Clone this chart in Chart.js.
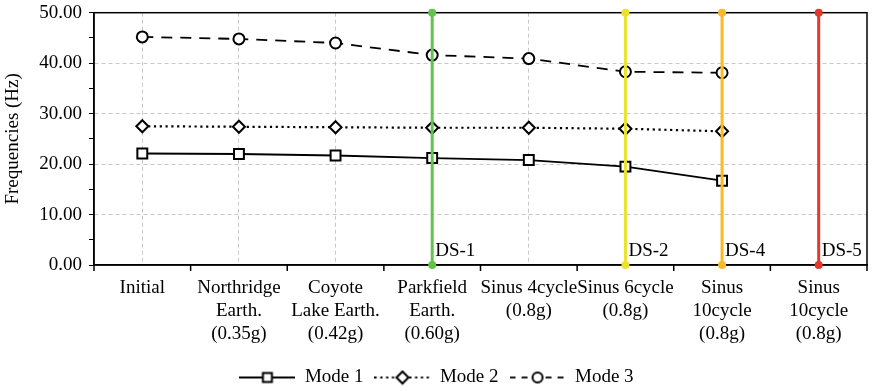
<!DOCTYPE html>
<html>
<head>
<meta charset="utf-8">
<script src="https://cdn.jsdelivr.net/npm/chart.js@4/dist/chart.umd.min.js"></script>
<style>
html, body { margin: 0; padding: 0; background: #fff; }
#wrap { width: 876px; height: 391px; }
</style>
</head>
<body>
<div id="wrap"><canvas id="chart1"></canvas></div>
<script>
const categories = [
    ['Initial'],
    ['Northridge', 'Earth.', '(0.35g)'],
    ['Coyote', 'Lake Earth.', '(0.42g)'],
    ['Parkfield', 'Earth.', '(0.60g)'],
    ['Sinus 4cycle', '(0.8g)'],
    ['Sinus 6cycle', '(0.8g)'],
    ['Sinus', '10cycle', '(0.8g)'],
    ['Sinus', '10cycle', '(0.8g)']
];
const mode1 = [22.1, 22.0, 21.7, 21.2, 20.8, 19.5, 16.7];
const mode2 = [27.5, 27.4, 27.3, 27.2, 27.2, 27.0, 26.5];
const mode3 = [45.2, 44.8, 44.0, 41.6, 40.9, 38.3, 38.1];
const dsNames = ['DS-1', 'DS-2', 'DS-4', 'DS-5'];
const dsAt = [3, 5, 6, 7];
const dsColors = ['#62c44a', '#ebe230', '#fbb829', '#e2392c'];
const yMin = 0, yMax = 50;

Chart.defaults.font.family = '"Liberation Serif", "Times New Roman", serif';
Chart.defaults.font.size = 19;
Chart.defaults.color = '#000';

// legend swatch: line sample with marker in the middle
function swatch(dash, width, shape) {
    const c = document.createElement('canvas');
    c.width = 56; c.height = 16;
    const g = c.getContext('2d');
    g.strokeStyle = '#000';
    g.lineWidth = width;
    g.setLineDash(dash);
    g.beginPath(); g.moveTo(0, 8); g.lineTo(56, 8); g.stroke();
    g.setLineDash([]);
    g.fillStyle = '#fff';
    g.lineWidth = 2;
    g.beginPath();
    if (shape === 'rect') g.rect(23.5, 3.5, 9, 9);
    else if (shape === 'rectRot') { g.moveTo(22, 8); g.lineTo(28, 2); g.lineTo(34, 8); g.lineTo(28, 14); g.closePath(); }
    else g.arc(28, 8, 5, 0, Math.PI * 2);
    g.fill(); g.stroke();
    return c;
}
const swatches = [swatch([], 1.8, 'rect'), swatch([2.2, 3.6], 2.2, 'rectRot'), swatch([6, 6], 1.8, 'circle')];

const dsSets = dsNames.map((name, i) => ({
    label: name,
    data: [{x: categories[dsAt[i]], y: yMin}, {x: categories[dsAt[i]], y: yMax}],
    borderColor: dsColors[i],
    backgroundColor: dsColors[i],
    borderWidth: 3,
    pointRadius: 4,
    pointBorderWidth: 0,
    clip: false
}));

const modeSets = [
    {label: 'Mode 1', data: mode1, borderDash: [], borderWidth: 1.8, pointStyle: 'rect', pointRadius: 7},
    {label: 'Mode 2', data: mode2, borderDash: [2.2, 3.6], borderWidth: 2.2, pointStyle: 'rectRot', pointRadius: 6},
    {label: 'Mode 3', data: mode3, borderDash: [11, 8], borderWidth: 1.8, pointStyle: 'circle', pointRadius: 5.5}
].map(d => Object.assign(d, {
    borderColor: '#000',
    pointBackgroundColor: '#fff',
    pointBorderColor: '#000',
    pointBorderWidth: 2
}));

const extras = {
    id: 'extras',
    beforeDatasetsDraw(chart) {
        const {ctx, chartArea: a} = chart;
        const x = chart.scales.x;
        ctx.save();
        ctx.strokeStyle = '#000';
        ctx.lineWidth = 1.5;
        ctx.strokeRect(a.left, a.top, a.right - a.left, a.bottom - a.top);
        ctx.beginPath();
        for (let i = 0; i <= categories.length; i++) {
            const px = x.getPixelForValue(i - 0.5);
            ctx.moveTo(px, a.bottom);
            ctx.lineTo(px, a.bottom + 6);
        }
        ctx.stroke();
        ctx.restore();
    },
    afterDatasetsDraw(chart) {
        const {ctx} = chart;
        const x = chart.scales.x, y = chart.scales.y;
        ctx.save();
        ctx.font = '19px "Liberation Serif"';
        ctx.fillStyle = '#000';
        ctx.textBaseline = 'middle';
        dsNames.forEach((t, i) => {
            ctx.fillText(t, x.getPixelForValue(dsAt[i]) + 3, y.getPixelForValue(yMin) - 14);
        });
        ctx.restore();
    }
};

const ctx1 = document.getElementById('chart1').getContext('2d');
const chart1 = new Chart(ctx1, {
    type: 'line',
    data: {
        labels: categories,
        datasets: dsSets.concat(modeSets)
    },
    options: {
        responsive: true,
        maintainAspectRatio: false,
        animation: false,
        layout: {padding: {top: 12, right: 3, bottom: -6, left: 0}},
        plugins: {
            tooltip: {enabled: false},
            legend: {
                position: 'bottom',
                labels: {
                    usePointStyle: true,
                    pointStyleWidth: 56,
                    padding: 11,
                    color: '#000',
                    generateLabels(chart) {
                        return Chart.defaults.plugins.legend.labels.generateLabels(chart)
                            .filter(l => l.datasetIndex >= dsNames.length)
                            .map(l => Object.assign(l, {pointStyle: swatches[l.datasetIndex - dsNames.length]}));
                    }
                }
            }
        },
        scales: {
            x: {
                type: 'category',
                offset: true,
                grid: {
                    offset: false,
                    drawTicks: false,
                    color: '#c8c8c8',
                    lineWidth: 1
                },
                border: {display: true, color: '#000', width: 1.5, dash: [4, 3]},
                ticks: {autoSkip: false, maxRotation: 0, minRotation: 0, padding: 12},
                afterFit(scale) { scale.height = 92; }
            },
            y: {
                min: yMin,
                max: yMax,
                grid: {
                    color: c => (c.tick && c.tick.value % 10 === 0 && c.tick.value > yMin && c.tick.value < yMax) ? '#c8c8c8' : 'rgba(0,0,0,0)',
                    tickColor: '#000',
                    tickLength: 5,
                    lineWidth: 1
                },
                border: {display: true, color: '#000', width: 1.5, dash: [4, 3]},
                ticks: {
                    stepSize: 5,
                    padding: 7,
                    font: {lineHeight: 0.6},
                    callback: v => (v % 10 === 0 ? v.toFixed(2) : '')
                },
                title: {display: true, text: 'Frequencies (Hz)', padding: {top: 2, bottom: 4}},
                afterFit(scale) { scale.width = 94; }
            }
        }
    },
    plugins: [extras]
});
</script>
</body>
</html>
